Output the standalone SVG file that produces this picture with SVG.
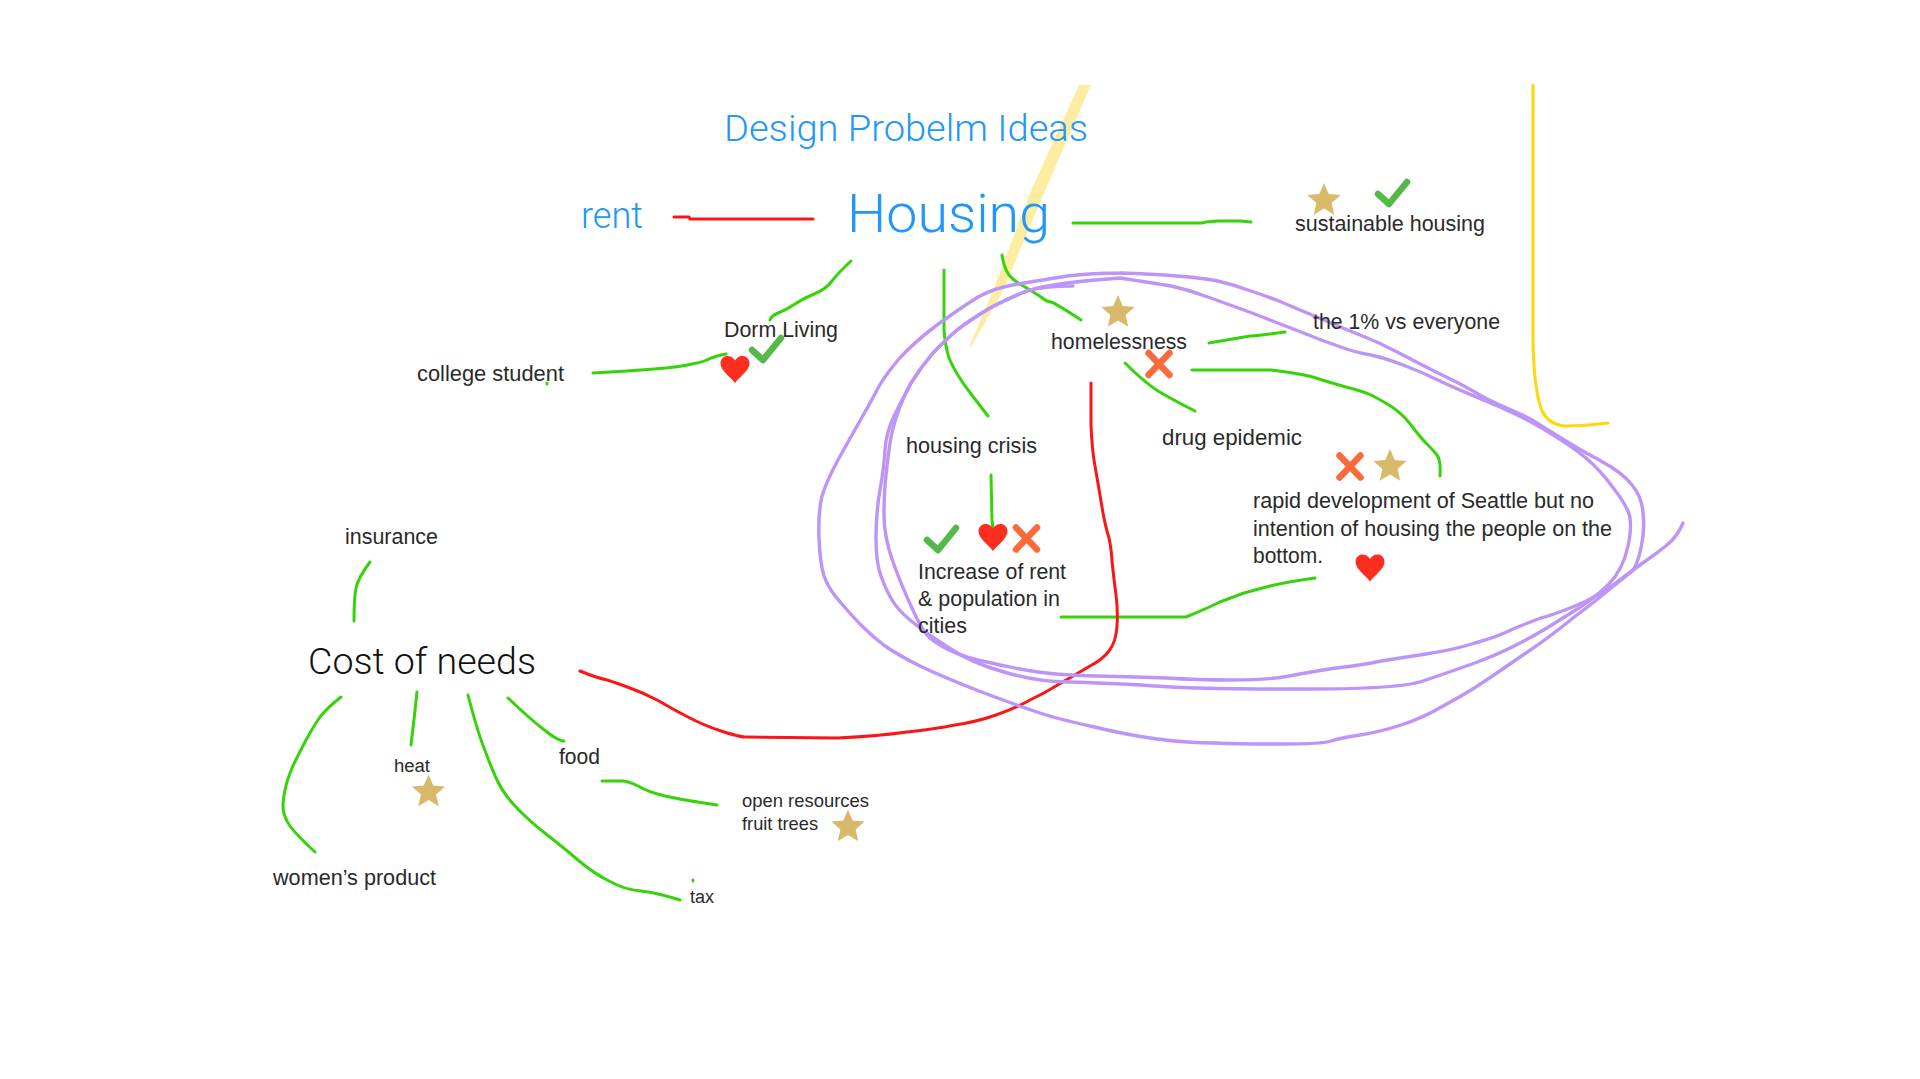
<svg xmlns="http://www.w3.org/2000/svg" width="1920" height="1079" viewBox="0 0 1920 1079">
<defs>
<style>
text{font-family:"Liberation Sans",Arial,sans-serif;fill:#2a2a2a}
.big{font-family:Roboto,"Liberation Sans",sans-serif;font-weight:300}
.blue{fill:#2196fb}
.s{font-size:22px}
.ln{fill:none;stroke-linecap:round;stroke-linejoin:round}
.g{stroke:#36d30b;stroke-width:3}
.r{stroke:#fb1616;stroke-width:3}
.p{stroke:#bd94f8;stroke-width:3.4}
.y{stroke:#ffd80a;stroke-width:3}
.chk{fill:none;stroke:#54b948;stroke-width:6.5;stroke-linecap:round;stroke-linejoin:round}
.xx{fill:none;stroke:#fb6a3a;stroke-width:6.5;stroke-linecap:round}
</style>
<polygon id="star" fill="#d8b96a" points="0,-17.5 4.7,-6.5 16.6,-5.4 7.6,2.5 10.3,14.2 0,8 -10.3,14.2 -7.6,2.5 -16.6,-5.4 -4.7,-6.5"/>
<path id="heart" fill="#fd2d20" d="M0,13.5C-4,8 -14.5,1 -14.5,-6C-14.5,-11 -11,-13.5 -7.500,-13.5C-4,-13.5 -1.5,-11.5 0,-9C1.5,-11.5 4,-13.5 7.5,-13.5C11,-13.5 14.5,-11 14.5,-6C14.5,1 4,8 0,13.5Z"/>
<path id="check" class="chk" d="M-14,-3L-3,7L15,-15"/>
<path id="cross" class="xx" d="M-10.5,-11L10.5,11M10.5,-11L-10.5,11"/>
</defs>
<rect width="1920" height="1079" fill="#fff"/>
<g id="highlights">
<polygon points="1079,85 1091,85 1044,193 1002,293 971,347 969,347 992,293 1030,193" fill="#fde88a" opacity=".8"/>
<path class="ln y" d="M1533,85L1533,343Q1534,385 1540,405Q1545,424 1565,426Q1585,426 1608,423"/>
</g>
<g id="connectors">
<path class="ln r" d="M674,217L689,217L690,219L813,219"/>
<path class="ln g" d="M1073,223L1202,223L1206,222L1218,221L1240,221L1251,222"/>
<path class="ln g" d="M851,261Q839,272 832,281Q825,290 814,294Q804,298 795,304Q786,310 778,313Q771,316 770,320"/>
<path class="ln g" d="M593,373Q629,371 654,369Q680,367 692,364Q704,362 711,358Q719,355 726,354"/>
<path class="ln g" d="M547,383L547,384"/>
<path class="ln g" d="M944,270L944,330Q945,345 949,358Q955,373 971,394L988,416"/>
<path class="ln g" d="M1002,255Q1004,268 1009,275Q1015,282 1025,287Q1035,293 1041,297Q1047,302 1051,302Q1055,303 1081,320"/>
<path class="ln g" d="M991,475L992,520L993,528"/>
<path class="ln g" d="M1061,617L1186,617Q1208,608 1220,602Q1233,597 1244,593Q1255,590 1270,586Q1286,582 1315,578"/>
<path class="ln g" d="M1209,343Q1238,338 1250,336Q1263,335 1285,332"/>
<path class="ln g" d="M1192,370L1271,370Q1304,374 1316,378Q1328,382 1346,387Q1365,392 1371,395Q1377,398 1389,405Q1402,413 1411,425Q1420,437 1426,443Q1433,450 1437,455Q1441,460 1440,476"/>
<path class="ln g" d="M1125,363Q1144,382 1158,391Q1173,400 1195,411"/>
<path class="ln g" d="M370,562Q358,578 356,588Q354,598 354,621"/>
<path class="ln g" d="M341,697Q328,707 320,717Q313,727 305,742Q297,757 292,768Q287,780 285,790Q283,800 283,806Q283,813 287,821Q291,830 315,852"/>
<path class="ln g" d="M417,692Q414,720 411,745"/>
<path class="ln g" d="M468,695Q477,730 484,748Q491,767 497,780Q503,793 515,806Q528,820 546,834Q564,848 578,860Q593,873 609,881Q625,890 641,891Q658,893 680,900"/>
<path class="ln g" d="M693,880L693,881"/>
<path class="ln g" d="M508,698Q528,717 543,729Q558,741 564,741"/>
<path class="ln g" d="M602,781L622,781Q628,781 638,786Q648,792 665,796Q683,800 717,805"/>
<path class="ln r" d="M580,671Q597,678 607,680Q617,683 630,688Q644,693 659,701Q674,710 688,717Q703,725 721,731Q740,737 745,737L838,738Q879,736 907,732Q935,729 955,725Q976,722 996,715Q1016,708 1030,700Q1045,693 1061,683Q1078,673 1090,666Q1102,660 1109,651Q1116,642 1117,626Q1118,610 1116,595Q1114,580 1112,561Q1111,543 1107,531Q1104,520 1101,501Q1098,483 1095,466Q1092,450 1091,425L1091,383"/>
<path class="ln p" d="M1120,273Q1092,273 1067,276Q1043,280 1018,284Q994,288 978,297Q962,307 937,325Q913,343 898,360Q884,377 878,388Q873,398 861,419Q849,440 838,460Q827,480 822,496Q818,513 819,538Q820,563 824,576Q829,590 841,603Q853,617 863,627Q873,637 885,646Q898,655 920,666Q943,677 979,691Q1016,705 1034,711Q1053,718 1090,726Q1127,735 1157,739Q1188,743 1214,743Q1240,744 1281,744Q1323,744 1331,741Q1340,738 1360,735Q1380,732 1401,725Q1423,718 1445,705Q1467,693 1482,683Q1497,673 1523,655Q1550,637 1573,618Q1597,600 1611,588Q1625,577 1631,572Q1637,567 1641,548Q1645,530 1643,513Q1642,497 1632,485Q1623,473 1601,461Q1580,450 1561,438Q1543,427 1537,423Q1532,419 1509,409Q1487,400 1473,391Q1459,383 1440,374Q1422,365 1401,354Q1381,343 1360,335Q1340,327 1317,317Q1295,308 1279,301Q1263,295 1248,290Q1234,285 1218,281Q1202,278 1177,276Q1153,274 1120,273"/>
<path class="ln p" d="M1073,286Q1043,286 1027,291Q1011,297 990,308Q970,320 957,330Q945,340 933,353Q921,367 911,383Q902,400 897,415Q892,430 890,443Q888,457 886,475Q884,493 884,515Q884,537 893,562Q902,587 912,608Q922,630 928,636Q935,643 949,650Q963,657 987,662Q1012,668 1032,671Q1053,675 1096,676Q1139,677 1167,678Q1196,680 1232,680Q1269,680 1289,676Q1310,672 1336,668Q1363,665 1381,661Q1400,658 1426,654Q1453,650 1475,643Q1497,637 1513,629Q1530,622 1541,618Q1553,615 1575,606Q1597,597 1617,582Q1637,567 1647,560Q1657,553 1667,545Q1677,537 1683,523"/>
<path class="ln p" d="M1120,278Q1092,280 1067,283Q1043,286 1027,291Q1011,297 990,308Q970,320 957,330Q945,340 933,353Q921,367 911,383Q902,400 894,416Q886,433 885,450Q884,467 880,490Q876,513 876,538Q876,563 881,576Q886,590 892,600Q898,610 910,620Q922,630 946,646Q971,663 1004,672Q1037,682 1069,682Q1102,683 1141,685Q1180,688 1200,688Q1220,689 1310,689Q1400,689 1423,681Q1447,673 1472,664Q1497,655 1518,644Q1540,633 1566,616Q1593,600 1608,585Q1623,570 1628,546Q1633,523 1628,511Q1623,500 1611,485Q1600,470 1586,458Q1573,447 1550,433Q1528,419 1493,404Q1459,390 1440,381Q1422,372 1403,365Q1385,358 1371,355Q1357,353 1338,346Q1320,340 1301,332Q1283,325 1252,313Q1222,302 1205,296Q1189,290 1171,286Q1153,283 1120,278"/>
</g>
<g id="title"><text class="big blue" x="724" y="141" font-size="37" textLength="364" lengthAdjust="spacingAndGlyphs">Design Probelm Ideas</text></g>
<g id="rent"><text class="big blue" x="581" y="228" font-size="36" textLength="62" lengthAdjust="spacingAndGlyphs">rent</text></g>
<g id="housing"><text class="big blue" x="847" y="232" font-size="54" textLength="203" lengthAdjust="spacingAndGlyphs">Housing</text></g>
<g id="sustainable"><text class="s" x="1295" y="231" textLength="190" lengthAdjust="spacingAndGlyphs">sustainable housing</text><use href="#star" x="1324" y="200.5"/><use href="#check" x="1392" y="197"/></g>
<g id="dorm"><text class="s" x="724" y="337" textLength="114" lengthAdjust="spacingAndGlyphs">Dorm Living</text><use href="#heart" x="735" y="369.5"/><use href="#check" x="766" y="353"/></g>
<g id="college"><text class="s" x="417" y="381" textLength="147" lengthAdjust="spacingAndGlyphs">college student</text></g>
<g id="homelessness"><text class="s" x="1051" y="349" textLength="136" lengthAdjust="spacingAndGlyphs">homelessness</text><use href="#star" x="1118" y="312.5"/><use href="#cross" x="1159" y="364"/></g>
<g id="one-percent"><text class="s" x="1313" y="329" textLength="187" lengthAdjust="spacingAndGlyphs">the 1% vs everyone</text></g>
<g id="housing-crisis"><text class="s" x="906" y="453" textLength="131" lengthAdjust="spacingAndGlyphs">housing crisis</text></g>
<g id="drug-epidemic"><text class="s" x="1162" y="445" textLength="140" lengthAdjust="spacingAndGlyphs">drug epidemic</text></g>
<g id="rapid-development">
<text class="s" x="1253" y="508" textLength="341" lengthAdjust="spacingAndGlyphs">rapid development of Seattle but no</text>
<text class="s" x="1253" y="536" textLength="359" lengthAdjust="spacingAndGlyphs">intention of housing the people on the</text>
<text class="s" x="1253" y="563" textLength="70" lengthAdjust="spacingAndGlyphs">bottom.</text>
<use href="#cross" x="1350" y="466.5"/><use href="#star" x="1390" y="466.5"/><use href="#heart" x="1370" y="568"/>
</g>
<g id="increase">
<text class="s" x="918" y="579" textLength="148" lengthAdjust="spacingAndGlyphs">Increase of rent</text>
<text class="s" x="918" y="606" textLength="142" lengthAdjust="spacingAndGlyphs">&amp; population in</text>
<text class="s" x="918" y="633" textLength="49" lengthAdjust="spacingAndGlyphs">cities</text>
<use href="#check" x="941" y="543"/><use href="#heart" x="993" y="537.5"/><use href="#cross" x="1026.5" y="538.5"/>
</g>
<g id="insurance"><text class="s" x="345" y="544" textLength="93" lengthAdjust="spacingAndGlyphs">insurance</text></g>
<g id="cost-of-needs"><text class="big" x="308" y="674" font-size="37" style="fill:#111" textLength="228" lengthAdjust="spacingAndGlyphs">Cost of needs</text></g>
<g id="heat"><text x="394" y="772" font-size="18" textLength="36" lengthAdjust="spacingAndGlyphs">heat</text><use href="#star" x="428.5" y="792"/></g>
<g id="food"><text class="s" x="559" y="764" textLength="41" lengthAdjust="spacingAndGlyphs">food</text></g>
<g id="womens-product"><text class="s" x="273" y="885" textLength="163" lengthAdjust="spacingAndGlyphs">women’s product</text></g>
<g id="open-resources"><text x="742" y="807" font-size="18.5" textLength="127" lengthAdjust="spacingAndGlyphs">open resources</text><text x="742" y="830" font-size="18.5" textLength="76" lengthAdjust="spacingAndGlyphs">fruit trees</text><use href="#star" x="848" y="827"/></g>
<g id="tax"><text x="690" y="903" font-size="18" textLength="24" lengthAdjust="spacingAndGlyphs">tax</text></g>
</svg>
